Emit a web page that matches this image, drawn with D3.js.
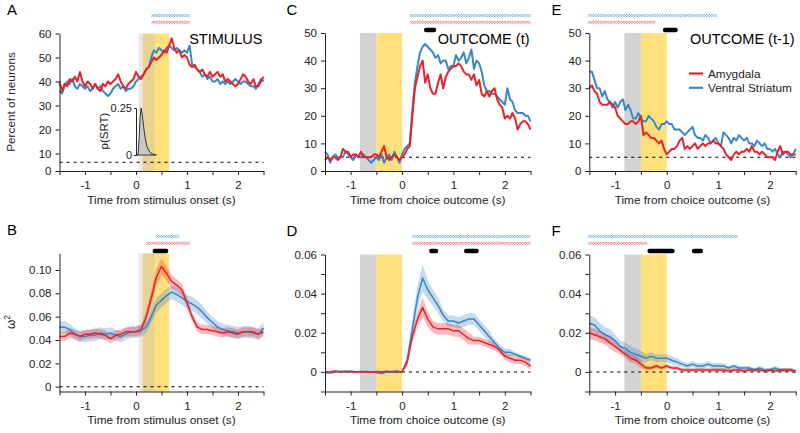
<!DOCTYPE html>
<html>
<head>
<meta charset="utf-8">
<script src="https://cdn.jsdelivr.net/npm/d3@7"></script>
<style>
  body { margin: 0; background: #fff; }
  text { font-family: "Liberation Sans", Arial, sans-serif; }
</style>
</head>
<body>
<script>
// time bins (s)
const tTop = d3.range(81).map(i => -1.5 + i * 0.05);
const tBot = d3.range(41).map(i => -1.5 + i * 0.1);

// A: percent of neurons, stimulus aligned
const aRed = [40,36,39,38,41,40,42,40,44,40, 38,40,39,37,39,37,36,39,38,40,
  39,40,41,43,40,38,37,39,40,41, 44,42,41,43,45,46,48,50,49,50,
  51,53,52,55,58,54,52,53,50,51, 50,47,46,47,45,44,45,43,42,44,
  42,43,44,42,43,40,41,40,39,38, 39,41,43,42,40,39,41,38,38,40, 42];
const aBlue = [36,35,38,40,39,41,38,37,39,38, 37,38,36,37,39,37,38,36,35,34,
  35,37,38,39,37,38,36,37,37,38, 40,41,42,43,45,46,50,53,52,54,
  53,52,54,55,54,53,54,53,52,53, 52,55,47,46,45,44,42,43,41,42,
  40,40,41,39,40,39,40,39,40,41, 40,39,40,40,39,38,38,37,39,41, 40];

// C: outcome (t)
const cRed = [4,5,4,5,5,4,5,8,7,7, 5,6,6,5,7,5,5,5,5,6,
  6,5,7,9,5,4,5,6,5,4, 5,6,8,9,20,30,34,38,40,32,
  35,30,28,28,32,35,30,34,36,37, 38,38,39,38,36,35,35,33,35,31,
  33,28,27,29,27,29,30,26,24,23, 19,20,19,21,19,15,17,18,18,17, 15];
const cBlue = [7,6,3,5,6,5,5,5,7,6, 5,4,6,5,5,6,5,4,3,4,
  5,4,6,3,5,6,4,7,5,3, 6,8,9,10,22,32,38,43,45,46,
  45,44,43,41,42,39,40,40,37,38, 38,42,40,41,43,39,41,44,37,40,
  39,36,31,29,29,28,28,27,26,25, 24,30,26,25,22,21,21,21,20,20, 18];

// E: outcome (t-1)
const eRed = [30,31,29,28,25,24,24,24,25,24, 23,20,19,18,17,17,18,18,17,18,
  20,13,14,13,12,12,11,10,11,8, 6,7,8,8,9,11,12,8,9,8,
  9,10,8,9,10,9,10,10,11,10, 10,9,8,6,5,4,6,7,6,7,
  7,8,7,9,7,7,6,7,6,5, 5,5,4,7,9,6,7,7,6,6, 6];
const eBlue = [36,36,33,30,30,27,29,26,25,23, 25,23,25,26,22,24,22,19,19,21,
  19,18,18,20,19,18,16,15,17,17, 18,17,17,15,15,15,14,13,14,15,
  16,13,12,12,11,13,12,10,11,12, 10,9,14,13,12,10,12,11,13,12,
  11,12,10,10,9,11,10,9,10,8, 8,7,8,6,5,7,7,6,5,6, 8];

// B: omega^2, stimulus aligned (mean, sem)
const bRed = [0.043,0.043,0.046,0.045,0.043,0.045,0.045,0.046,0.045,0.044,0.041,0.044,0.045,0.047,0.047,0.047,
  0.049,0.060,0.076,0.094,0.103,0.097,0.090,0.087,0.083,0.072,0.060,0.051,0.049,0.049,0.048,0.047,0.046,0.047,0.046,0.045,0.047,0.047,0.047,0.045,0.047];
const bRedSem = [0.004,0.004,0.004,0.004,0.004,0.004,0.004,0.004,0.004,0.004,0.004,0.004,0.004,0.004,0.004,0.004,
  0.004,0.005,0.006,0.007,0.007,0.006,0.006,0.005,0.005,0.005,0.004,0.004,0.004,0.004,0.004,0.004,0.004,0.004,0.004,0.004,0.004,0.004,0.004,0.004,0.004];
const bBlue = [0.051,0.051,0.049,0.045,0.043,0.043,0.044,0.044,0.046,0.045,0.046,0.044,0.043,0.045,0.047,0.047,
  0.048,0.051,0.060,0.070,0.074,0.078,0.081,0.079,0.076,0.073,0.071,0.068,0.064,0.059,0.055,0.051,0.049,0.048,0.047,0.046,0.047,0.047,0.046,0.045,0.050];
const bBlueSem = [0.005,0.005,0.005,0.005,0.005,0.005,0.005,0.005,0.005,0.005,0.005,0.005,0.005,0.005,0.005,0.005,
  0.005,0.005,0.005,0.006,0.006,0.006,0.006,0.006,0.006,0.006,0.006,0.006,0.006,0.005,0.005,0.005,0.005,0.005,0.005,0.005,0.005,0.005,0.005,0.005,0.005];

// D: omega^2, outcome (t)
const dRed = [0,0,0.0005,0,0.0003,0,0,0.0002,0,-0.0002,0.0002,0,0.0003,0,0.0002,0,
  0.005,0.018,0.027,0.033,0.027,0.023,0.022,0.022,0.022,0.021,0.021,0.019,0.017,0.016,0.016,0.015,0.014,0.013,0.011,0.008,0.007,0.006,0.006,0.005,0.003];
const dRedSem = [0.0005,0.0005,0.0005,0.0005,0.0005,0.0005,0.0005,0.0005,0.0005,0.0005,0.0005,0.0005,0.0005,0.0005,0.0005,0.0005,
  0.002,0.003,0.004,0.005,0.004,0.003,0.003,0.003,0.003,0.003,0.003,0.003,0.003,0.002,0.002,0.002,0.002,0.002,0.002,0.002,0.002,0.002,0.002,0.002,0.002];
const dBlue = [-0.0003,-0.0005,0,0.0003,0,0.0005,0,0,0.0002,0,-0.0003,-0.0008,0,0.0002,0.0003,0,
  0.006,0.022,0.038,0.048,0.042,0.038,0.034,0.029,0.026,0.026,0.025,0.026,0.027,0.027,0.024,0.021,0.018,0.015,0.012,0.010,0.010,0.009,0.008,0.007,0.006];
const dBlueSem = [0.0005,0.0005,0.0005,0.0005,0.0005,0.0005,0.0005,0.0005,0.0005,0.0005,0.0005,0.0005,0.0005,0.0005,0.0005,0.0005,
  0.003,0.005,0.006,0.007,0.005,0.004,0.004,0.003,0.003,0.003,0.003,0.003,0.003,0.003,0.003,0.003,0.003,0.002,0.002,0.002,0.002,0.001,0.001,0.001,0.001];

// F: omega^2, outcome (t-1)
const fRed = [0.020,0.019,0.018,0.017,0.015,0.013,0.011,0.009,0.007,0.006,0.004,0.002,0.002,0.003,0.002,0.003,
  0.002,0.002,0.001,0.001,0.001,0.001,0.001,0.001,0.001,0.001,0.001,0.0005,0.001,0.001,0.0005,0.001,0.001,0.001,0.0005,0.001,0.0005,0.001,0.001,0.001,0.0005];
const fRedSem = [0.003,0.003,0.003,0.003,0.003,0.003,0.002,0.002,0.002,0.002,0.002,0.001,0.001,0.001,0.001,0.001,
  0.001,0.001,0.001,0.001,0.001,0.001,0.001,0.001,0.001,0.001,0.001,0.001,0.001,0.001,0.001,0.001,0.001,0.001,0.001,0.001,0.001,0.001,0.001,0.001,0.001];
const fBlue = [0.025,0.024,0.021,0.019,0.018,0.016,0.013,0.012,0.010,0.009,0.008,0.007,0.008,0.007,0.007,0.007,
  0.006,0.005,0.004,0.003,0.004,0.003,0.003,0.004,0.003,0.003,0.003,0.002,0.003,0.002,0.002,0.002,0.001,0.002,0.001,0.001,0.002,0.001,0.001,0.001,0];
const fBlueSem = [0.004,0.004,0.004,0.004,0.004,0.003,0.003,0.003,0.003,0.003,0.003,0.002,0.002,0.002,0.002,0.002,
  0.002,0.002,0.0015,0.0015,0.0015,0.0015,0.0015,0.0015,0.0015,0.0015,0.0015,0.001,0.001,0.001,0.001,0.001,0.001,0.001,0.001,0.001,0.001,0.001,0.001,0.001,0.001];

// saccadic reaction time distribution (inset A)
const srtTime = [0, 0.04, 0.06, 0.08, 0.10, 0.12, 0.15, 0.18, 0.22, 0.27, 0.33, 0.40];
const srtProb = [0, 0, 0.08, 0.20, 0.25, 0.22, 0.15, 0.09, 0.04, 0.015, 0.005, 0];

// task windows (s)
const stimGray = [0.05, 0.37], stimYellow = [0.13, 0.65];
const outGray = [-0.82, -0.5], outYellow = [-0.5, 0];

// significant bins: [start, end] (s)
const sigA = { blue: [[0.33, 1.07]], red: [[0.33, 1.07]], diff: [] };
const sigB = { blue: [[0.42, 0.86]], red: [[0.23, 1.07]], diff: [[0.37, 0.59]] };
const sigC = { blue: [[0.18, 2.5]], red: [[0.18, 2.5]], diff: [[0.47, 0.62]] };
const sigD = { blue: [[0.22, 2.5]], red: [[0.22, 2.5]], diff: [[0.57, 0.66], [1.25, 1.45]] };
const sigE = { blue: [[-1.5, 0.97]], red: [[-1.5, -0.25]], diff: [[-0.03, 0.17]] };
const sigF = { blue: [[-1.5, 1.38]], red: [[-1.5, -0.38]], diff: [[-0.33, 0.11], [0.53, 0.66]] };

const xTicks = [-1.5, -1, -0.5, 0, 0.5, 1, 1.5, 2, 2.5];
const RED = "#e6222a", BLUE = "#3a86c6";

const svg = d3.select("body").append("svg")
  .attr("width", 800)
  .attr("height", 433);

function panel(o) {
  const g = svg.append("g");
  const x = d3.scaleLinear().domain([-1.5, 2.5]).range([o.left, o.right]);
  const y = o.y;
  const r = y.range();
  const yb = r[0], yt = r[r.length - 1];

  // task windows
  g.append("rect")
    .attr("x", x(o.yellow[0])).attr("width", x(o.yellow[1]) - x(o.yellow[0]))
    .attr("y", yt).attr("height", yb - yt)
    .attr("fill", "#ffe07c");
  g.append("rect")
    .attr("x", x(o.gray[0])).attr("width", x(o.gray[1]) - x(o.gray[0]))
    .attr("y", yt).attr("height", yb - yt)
    .attr("fill", o.grayFill).attr("opacity", o.grayOpacity);

  // sem bands
  if (o.sem) {
    [[o.blue, o.blueSem, BLUE], [o.red, o.redSem, RED]].forEach(([m, s, c]) => {
      const area = d3.area()
        .x((d, i) => x(o.t[i]))
        .y0((d, i) => y(m[i] - s[i]))
        .y1((d, i) => y(m[i] + s[i]));
      g.append("path").datum(m).attr("d", area)
        .attr("fill", c).attr("opacity", 0.3);
    });
  }

  // chance / zero line
  g.append("line")
    .attr("x1", x(-1.5)).attr("x2", x(2.5))
    .attr("y1", y(o.chance)).attr("y2", y(o.chance))
    .attr("stroke", "#000").attr("stroke-width", 1.1)
    .attr("stroke-dasharray", "3,4");

  const line = d3.line().x((d, i) => x(o.t[i])).y(d => y(d));
  [[o.blue, BLUE], [o.red, RED]].forEach(([m, c]) => {
    g.append("path").datum(m).attr("d", line)
      .attr("fill", "none").attr("stroke", c)
      .attr("stroke-width", o.lw).attr("stroke-linejoin", "round");
  });

  // axes
  const xAxis = d3.axisBottom(x).tickValues(xTicks).tickSize(4).tickSizeOuter(0).tickPadding(6)
    .tickFormat(d => Number.isInteger(d) ? String(d) : "");
  g.append("g").attr("transform", "translate(0," + yb + ")").call(xAxis);
  const yAxis = d3.axisLeft(y).tickValues(o.yTicks).tickSize(4).tickSizeOuter(0).tickPadding(4)
    .tickFormat(o.yFormat);
  g.append("g").attr("transform", "translate(" + o.left + ",0)").call(yAxis);
  g.selectAll(".tick text").attr("font-size", 11.5).attr("fill", "#222")
    .attr("font-family", "Liberation Sans, Arial, sans-serif");
  g.selectAll(".domain, .tick line").attr("stroke", "#222");

  // significance markers
  const crosses = (ranges, yy, c) => {
    ranges.forEach(([a, b]) => {
      g.selectAll(null).data(d3.range(a, b + 1e-6, 0.05)).enter()
        .append("path")
        .attr("d", d => {
          const cx = x(d), h = 1.4;
          return `M${cx - h},${yy - h}L${cx + h},${yy + h}M${cx - h},${yy + h}L${cx + h},${yy - h}`;
        })
        .attr("stroke", c).attr("stroke-width", 0.8).attr("fill", "none");
    });
  };
  crosses(o.sig.blue, o.sigY, "#6fa9dc");
  crosses(o.sig.red, o.sigY + 6.8, "#f0787e");
  o.sig.diff.forEach(([a, b]) => {
    g.append("line")
      .attr("x1", x(a)).attr("x2", x(b))
      .attr("y1", o.sigY + 14.5).attr("y2", o.sigY + 14.5)
      .attr("stroke", "#000").attr("stroke-width", 4.6).attr("stroke-linecap", "round");
  });

  // labels
  g.append("text").attr("x", o.letterX).attr("y", yt - 18.5)
    .attr("font-size", 15).text(o.letter);
  g.append("text").attr("x", (o.left + o.right) / 2).attr("y", yb + 32.5)
    .attr("text-anchor", "middle").attr("font-size", 11.8).attr("fill", "#222")
    .text(o.xLabel);
  if (o.title) {
    g.append("text").attr("x", o.right - 1).attr("y", 43.5)
      .attr("text-anchor", "end").attr("font-size", 14.5).text(o.title);
  }
  return { g, x, y };
}

const cols = [[59.5, 263.5], [325, 530.5], [589.3, 795.7]];
const letterXs = [7, 286.5, 551.5];
const pctTicks50 = [0, 10, 20, 30, 40, 50];
const wTicks = [-0.01, 0, 0.01, 0.02, 0.03, 0.04, 0.05, 0.06];
const wFormat = d => d === 0 ? "0" : ([0.02, 0.04, 0.06].includes(d) ? d.toFixed(2) : "");

const pA = panel({
  letter: "A", letterX: letterXs[0], left: cols[0][0], right: cols[0][1], t: tTop, red: aRed, blue: aBlue, lw: 2,
  y: d3.scaleLinear().domain([0, 10, 60]).range([171, 153.5, 33.5]),
  yTicks: [0, 10, 20, 30, 40, 50, 60], yFormat: d => d, chance: 5,
  gray: stimGray, yellow: stimYellow, grayFill: "#bdbdbd", grayOpacity: 0.35,
  sig: sigA, sigY: 15.5, xLabel: "Time from stimulus onset (s)", title: "STIMULUS"
});
panel({
  letter: "C", letterX: letterXs[1], left: cols[1][0], right: cols[1][1], t: tTop, red: cRed, blue: cBlue, lw: 2,
  y: d3.scaleLinear().domain([0, 50]).range([171, 33]),
  yTicks: pctTicks50, yFormat: d => d, chance: 5,
  gray: outGray, yellow: outYellow, grayFill: "#d3d3d3", grayOpacity: 1,
  sig: sigC, sigY: 15.5, xLabel: "Time from choice outcome (s)", title: "OUTCOME (t)"
});
const pE = panel({
  letter: "E", letterX: letterXs[2], left: cols[2][0], right: cols[2][1], t: tTop, red: eRed, blue: eBlue, lw: 2,
  y: d3.scaleLinear().domain([0, 50]).range([171, 33]),
  yTicks: pctTicks50, yFormat: d => d, chance: 5,
  gray: outGray, yellow: outYellow, grayFill: "#d3d3d3", grayOpacity: 1,
  sig: sigE, sigY: 15.5, xLabel: "Time from choice outcome (s)", title: "OUTCOME (t-1)"
});
panel({
  letter: "B", letterX: letterXs[0], left: cols[0][0], right: cols[0][1], t: tBot, red: bRed, blue: bBlue,
  redSem: bRedSem, blueSem: bBlueSem, sem: true, lw: 1.5,
  y: d3.scaleLinear().domain([-0.0041, 0.1141]).range([391.5, 253.5]),
  yTicks: [0, 0.02, 0.04, 0.06, 0.08, 0.10], yFormat: d => d === 0 ? "0" : d.toFixed(2), chance: 0,
  gray: stimGray, yellow: stimYellow, grayFill: "#bdbdbd", grayOpacity: 0.35,
  sig: sigB, sigY: 236.5, xLabel: "Time from stimulus onset (s)"
});
panel({
  letter: "D", letterX: letterXs[1], left: cols[1][0], right: cols[1][1], t: tBot, red: dRed, blue: dBlue,
  redSem: dRedSem, blueSem: dBlueSem, sem: true, lw: 1.5,
  y: d3.scaleLinear().domain([-0.01, 0.06]).range([391.5, 254.5]),
  yTicks: wTicks, yFormat: wFormat, chance: 0,
  gray: outGray, yellow: outYellow, grayFill: "#d3d3d3", grayOpacity: 1,
  sig: sigD, sigY: 236.5, xLabel: "Time from choice outcome (s)"
});
panel({
  letter: "F", letterX: letterXs[2], left: cols[2][0], right: cols[2][1], t: tBot, red: fRed, blue: fBlue,
  redSem: fRedSem, blueSem: fBlueSem, sem: true, lw: 1.5,
  y: d3.scaleLinear().domain([-0.01, 0.06]).range([391.5, 254.5]),
  yTicks: wTicks, yFormat: wFormat, chance: 0,
  gray: outGray, yellow: outYellow, grayFill: "#d3d3d3", grayOpacity: 1,
  sig: sigF, sigY: 236.5, xLabel: "Time from choice outcome (s)"
});

// y-axis titles
svg.append("text").attr("transform", "translate(15,102) rotate(-90)")
  .attr("text-anchor", "middle").attr("font-size", 11.8).attr("fill", "#222")
  .text("Percent of neurons");
const wt = svg.append("text").attr("transform", "translate(15,322) rotate(-90)")
  .attr("text-anchor", "middle").attr("font-size", 12).attr("fill", "#222");
wt.append("tspan").text("ω");
wt.append("tspan").attr("dy", -5).attr("font-size", 8.5).text("2");

// inset: p(SRT)
const ySrt = d3.scaleLinear().domain([0, 0.25]).range([155, 108]);
const srtArea = d3.area().x((d, i) => pA.x(srtTime[i])).y0(ySrt(0)).y1(d => ySrt(d));
pA.g.append("path").datum(srtProb).attr("d", srtArea)
  .attr("fill", "#c8c8c8").attr("stroke", "#222").attr("stroke-width", 0.9);
pA.g.append("g").attr("transform", "translate(" + pA.x(0) + ",0)")
  .call(d3.axisLeft(ySrt).tickValues([0, 0.25]).tickSize(2).tickSizeOuter(0).tickPadding(2).tickFormat(d => d))
  .call(a => a.selectAll("text").attr("font-size", 11).attr("fill", "#222"))
  .call(a => a.selectAll(".domain, .tick line").attr("stroke", "#222"));
pA.g.append("text").attr("transform", "translate(108,131) rotate(-90)")
  .attr("text-anchor", "middle").attr("font-size", 11.5).attr("fill", "#222")
  .text("p(SRT)");

// legend
const legend = [["Amygdala", RED], ["Ventral Striatum", BLUE]];
legend.forEach(([name, c], i) => {
  const ly = 73.5 + i * 14.3;
  pE.g.append("line").attr("x1", 689).attr("x2", 703).attr("y1", ly).attr("y2", ly)
    .attr("stroke", c).attr("stroke-width", 2.2);
  pE.g.append("text").attr("x", 708).attr("y", ly + 4).attr("font-size", 11.8)
    .attr("fill", "#222").text(name);
});
</script>
</body>
</html>
